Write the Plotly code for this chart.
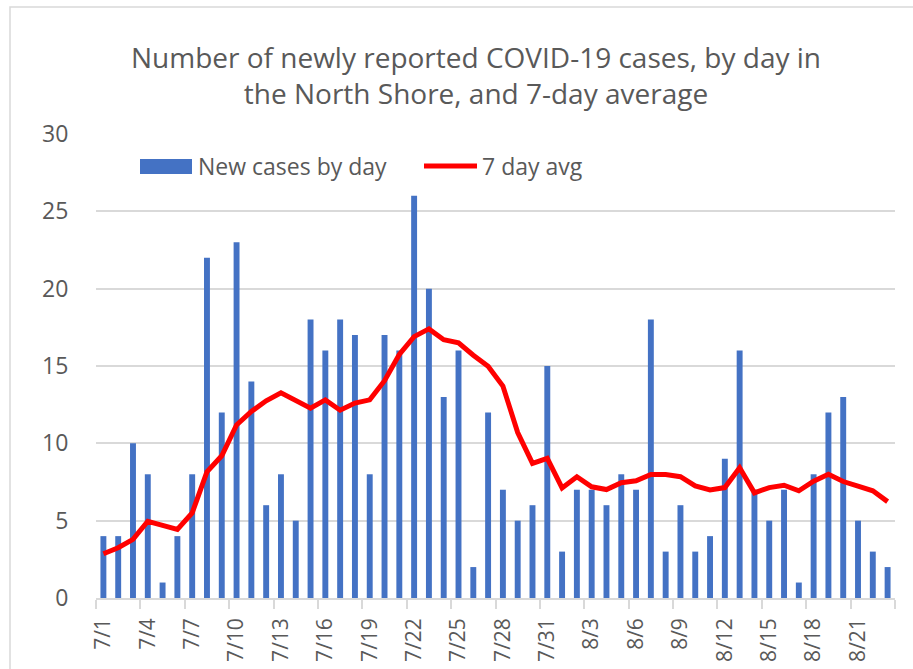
import pandas as pd
import plotly.graph_objects as go

dates = pd.date_range("2020-07-01", "2020-08-23", freq="D")

new_cases = [4, 4, 10, 8, 1, 4, 8, 22, 12, 23, 14, 6, 8, 5, 18, 16, 18, 17, 8, 17, 16,
             26, 20, 13, 16, 2, 12, 7, 5, 6, 15,
             3, 7, 7, 6, 8, 7, 18, 3, 6, 3, 4, 9, 16, 7, 5, 7, 1, 8, 12, 13, 5, 3, 2]

avg7 = [2.86, 3.25, 3.79, 4.96, 4.7, 4.44, 5.5, 8.16, 9.2, 11.19, 12.06, 12.75, 13.27,
        12.81, 12.27, 12.81, 12.14, 12.6, 12.81, 14.05, 15.75, 16.9, 17.4, 16.7, 16.5,
        15.7, 14.98, 13.7, 10.7, 8.7, 9.03, 7.12, 7.84, 7.19, 7.01, 7.45, 7.58, 7.99,
        7.99, 7.84, 7.25, 6.99, 7.14, 8.42, 6.8, 7.14, 7.29, 6.93, 7.55, 8.0, 7.53,
        7.23, 6.93, 6.23]

title_text = "Number of newly reported COVID-19 cases, by day in<br>the North Shore, and 7-day average"
bar_name = "New cases by day"
line_name = "7 day avg"

BAR_COLOR = "#4472C4"
LINE_COLOR = "#FF0000"
TEXT_COLOR = "#595959"
GRID_COLOR = "#D9D9D9"
FONT = "'Open Sans', sans-serif"

W, H = 913, 669
L, R, T, B = 96, 18, 134, 71
PW, PH = W - L - R, H - T - B


def px2x(px):
    return (px - L) / PW


def py2y(py):
    return (H - B - py) / PH


DAY_MS = 86400000

fig = go.Figure()
fig.add_trace(go.Bar(x=dates, y=new_cases, name=bar_name, marker_color=BAR_COLOR,
                     marker_line_width=0, showlegend=False))
fig.add_trace(go.Scatter(x=dates, y=avg7, name=line_name, mode="lines",
                         line=dict(color=LINE_COLOR, width=5), showlegend=False))

fig.update_layout(
    width=W, height=H,
    margin=dict(l=L, r=R, t=T, b=B, autoexpand=False),
    plot_bgcolor="white", paper_bgcolor="white",
    font=dict(family=FONT, color=TEXT_COLOR, size=23),
    bargap=0.6,
    title=dict(text=title_text, x=476 / W, xanchor="center", y=1 - 68 / H, yanchor="middle",
               font=dict(size=28, color=TEXT_COLOR, family=FONT)),
    xaxis=dict(
        type="date",
        range=[dates[0] - pd.Timedelta(hours=12), dates[-1] + pd.Timedelta(hours=12)],
        tick0=dates[0], dtick=3 * DAY_MS, tickformat="%-m/%-d", tickangle=-90,
        ticks="outside", ticklen=10, tickcolor="rgba(0,0,0,0)",
        tickfont=dict(size=21, color=TEXT_COLOR),
        showgrid=False, showline=True, linecolor=GRID_COLOR, linewidth=1.5,
        minor=dict(tick0=dates[0] - pd.Timedelta(hours=12), dtick=3 * DAY_MS,
                   ticks="outside", ticklen=9, tickcolor=GRID_COLOR, tickwidth=1.5,
                   showgrid=False),
        zeroline=False,
    ),
    yaxis=dict(
        range=[0, 30], dtick=5, showgrid=True, gridcolor=GRID_COLOR, gridwidth=1.5,
        zeroline=False, showline=False,
        ticks="outside", ticklen=22, tickcolor="rgba(0,0,0,0)",
        tickfont=dict(size=23, color=TEXT_COLOR),
    ),
)

# chart border
fig.add_shape(type="rect", xref="paper", yref="paper",
              x0=px2x(10), x1=px2x(W + 5), y0=py2y(H + 5), y1=py2y(7),
              line=dict(color=GRID_COLOR, width=1.5), fillcolor="rgba(0,0,0,0)", layer="below")

# custom legend
fig.add_shape(type="rect", xref="paper", yref="paper",
              x0=px2x(140), x1=px2x(192), y0=py2y(174), y1=py2y(159),
              fillcolor=BAR_COLOR, line=dict(width=0))
fig.add_annotation(xref="paper", yref="paper", x=px2x(196), y=py2y(166), xanchor="left",
                   yanchor="middle", text=bar_name, showarrow=False,
                   font=dict(size=23, color=TEXT_COLOR, family=FONT))
fig.add_shape(type="line", xref="paper", yref="paper",
              x0=px2x(424), x1=px2x(477), y0=py2y(166), y1=py2y(166),
              line=dict(color=LINE_COLOR, width=5))
fig.add_annotation(xref="paper", yref="paper", x=px2x(480), y=py2y(166), xanchor="left",
                   yanchor="middle", text=line_name, showarrow=False,
                   font=dict(size=23, color=TEXT_COLOR, family=FONT))

fig.write_html("out.html", config={"displayModeBar": False},
               post_script="document.body.style.margin='0';")
